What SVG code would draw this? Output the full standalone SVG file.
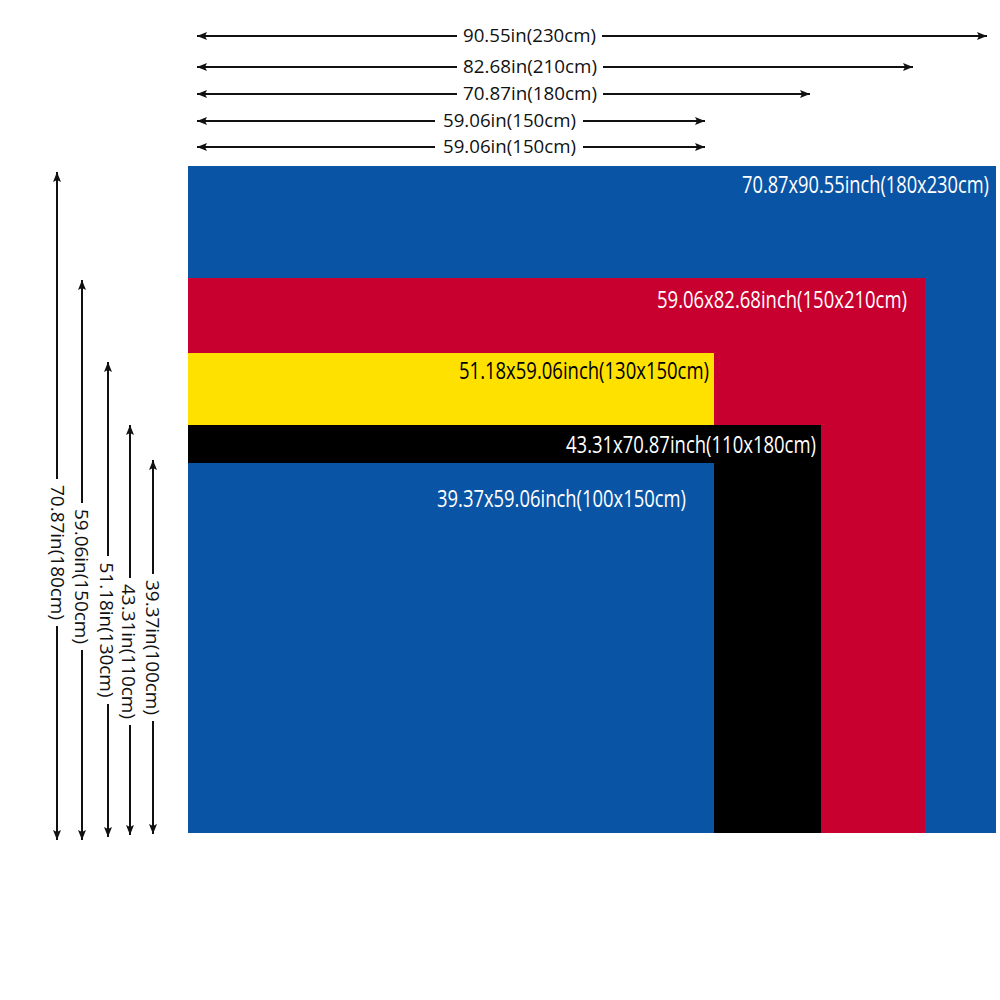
<svg xmlns="http://www.w3.org/2000/svg" width="1000" height="1000" viewBox="0 0 1000 1000">
  <defs>
    <marker id="arr" viewBox="0 0 10 8" refX="10" refY="4" markerWidth="10" markerHeight="8" markerUnits="userSpaceOnUse" orient="auto-start-reverse">
      <path d="M0,0 L10,4 L0,8 L2,4 Z" fill="#111"/>
    </marker>
  </defs>
  <style>
    .dim { stroke: #111; stroke-width: 2; fill: none; }
    .dimtxt { font-family: "Open Sans", "Noto Sans", "Liberation Sans", sans-serif; font-size: 19px; fill: #111; }
    .lbl { font-family: "Open Sans", "Noto Sans", "Liberation Sans", sans-serif; font-size: 23px; text-anchor: end; }
    .w { fill: #ffffff; }
    .k { fill: #000000; }
  </style>
  <rect width="1000" height="1000" fill="#ffffff"/>

  <g id="size-180x230">
    <rect x="188" y="166" width="808" height="667" fill="#0A54A5"/>
    <text class="lbl w" x="989" y="193" textLength="247" lengthAdjust="spacingAndGlyphs">70.87x90.55inch(180x230cm)</text>
  </g>
  <g id="size-150x210">
    <rect x="188" y="278" width="737" height="555" fill="#C8002F"/>
    <text class="lbl w" x="907" y="308" textLength="250" lengthAdjust="spacingAndGlyphs">59.06x82.68inch(150x210cm)</text>
  </g>
  <g id="size-130x150">
    <rect x="188" y="353" width="526" height="72" fill="#FFE100"/>
    <text class="lbl k" x="709" y="379" textLength="250" lengthAdjust="spacingAndGlyphs">51.18x59.06inch(130x150cm)</text>
  </g>
  <g id="size-110x180">
    <rect x="188" y="425" width="633" height="408" fill="#000000"/>
    <text class="lbl w" x="816" y="453" textLength="250" lengthAdjust="spacingAndGlyphs">43.31x70.87inch(110x180cm)</text>
  </g>
  <g id="size-100x150">
    <rect x="188" y="463" width="526" height="370" fill="#0A54A5"/>
    <text class="lbl w" x="686" y="507" textLength="249" lengthAdjust="spacingAndGlyphs">39.37x59.06inch(100x150cm)</text>
  </g>

  <g id="connectors">
    <line class="dim" x1="457" y1="36" x2="197" y2="36" marker-end="url(#arr)"/>
    <line class="dim" x1="602" y1="36" x2="987" y2="36" marker-end="url(#arr)"/>
    <line class="dim" x1="457" y1="67" x2="197" y2="67" marker-end="url(#arr)"/>
    <line class="dim" x1="603" y1="67" x2="913" y2="67" marker-end="url(#arr)"/>
    <line class="dim" x1="457" y1="94" x2="197" y2="94" marker-end="url(#arr)"/>
    <line class="dim" x1="603" y1="94" x2="810" y2="94" marker-end="url(#arr)"/>
    <line class="dim" x1="435" y1="121" x2="197" y2="121" marker-end="url(#arr)" stroke-width="1.6"/>
    <line class="dim" x1="583" y1="121" x2="705" y2="121" marker-end="url(#arr)" stroke-width="1.6"/>
    <line class="dim" x1="435" y1="147" x2="197" y2="147" marker-end="url(#arr)" stroke-width="1.6"/>
    <line class="dim" x1="583" y1="147" x2="705" y2="147" marker-end="url(#arr)" stroke-width="1.6"/>

    <line class="dim" x1="57" y1="479" x2="57" y2="172" marker-end="url(#arr)"/>
    <line class="dim" x1="57" y1="626" x2="57" y2="840" marker-end="url(#arr)"/>
    <line class="dim" x1="82" y1="503" x2="82" y2="280" marker-end="url(#arr)"/>
    <line class="dim" x1="82" y1="650" x2="82" y2="840" marker-end="url(#arr)"/>
    <line class="dim" x1="108" y1="556" x2="108" y2="362" marker-end="url(#arr)"/>
    <line class="dim" x1="108" y1="704" x2="108" y2="837" marker-end="url(#arr)"/>
    <line class="dim" x1="130" y1="578" x2="130" y2="425" marker-end="url(#arr)"/>
    <line class="dim" x1="130" y1="725" x2="130" y2="835" marker-end="url(#arr)"/>
    <line class="dim" x1="153" y1="574" x2="153" y2="460" marker-end="url(#arr)"/>
    <line class="dim" x1="153" y1="721" x2="153" y2="834" marker-end="url(#arr)"/>
  </g>

  <g id="dimension-labels">
    <text class="dimtxt" x="529.5" y="42" text-anchor="middle" textLength="133" lengthAdjust="spacingAndGlyphs">90.55in(230cm)</text>
    <text class="dimtxt" x="530" y="73" text-anchor="middle" textLength="134" lengthAdjust="spacingAndGlyphs">82.68in(210cm)</text>
    <text class="dimtxt" x="530" y="100" text-anchor="middle" textLength="134" lengthAdjust="spacingAndGlyphs">70.87in(180cm)</text>
    <text class="dimtxt" x="509.5" y="127" text-anchor="middle" textLength="133" lengthAdjust="spacingAndGlyphs">59.06in(150cm)</text>
    <text class="dimtxt" x="509.5" y="153" text-anchor="middle" textLength="133" lengthAdjust="spacingAndGlyphs">59.06in(150cm)</text>

    <text class="dimtxt" transform="translate(57,552.5) rotate(90)" dy="6.5" text-anchor="middle" textLength="135" lengthAdjust="spacingAndGlyphs">70.87in(180cm)</text>
    <text class="dimtxt" transform="translate(81.5,576.5) rotate(90)" dy="6.5" text-anchor="middle" textLength="135" lengthAdjust="spacingAndGlyphs">59.06in(150cm)</text>
    <text class="dimtxt" transform="translate(106,630) rotate(90)" dy="6.5" text-anchor="middle" textLength="135" lengthAdjust="spacingAndGlyphs">51.18in(130cm)</text>
    <text class="dimtxt" transform="translate(128,651.5) rotate(90)" dy="6.5" text-anchor="middle" textLength="135" lengthAdjust="spacingAndGlyphs">43.31in(110cm)</text>
    <text class="dimtxt" transform="translate(152,647.5) rotate(90)" dy="6.5" text-anchor="middle" textLength="135" lengthAdjust="spacingAndGlyphs">39.37in(100cm)</text>
  </g>
</svg>
